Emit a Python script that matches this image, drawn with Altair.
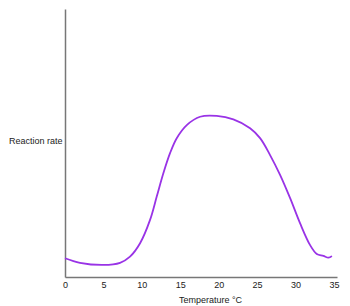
import altair as alt
import pandas as pd

temperature = [0, 1.95, 4.99, 7.16, 8.46, 9.77, 11.07, 11.94, 12.80, 13.67, 14.54,
               15.85, 17.58, 19.75, 21.91, 24.09, 25.39, 26.69, 27.99, 29.30,
               30.60, 31.90, 32.77, 33.63, 34.28, 34.73]
rate = [7.0, 5.3, 4.5, 5.3, 7.6, 12.6, 21.3, 30.0, 38.7, 46.2, 51.8,
        56.7, 59.8, 60.1, 58.8, 55.5, 51.8, 45.5, 38.1, 29.4,
        20.0, 11.9, 8.6, 7.9, 7.2, 7.8]
x_ticks = [0, 5, 10, 15, 20, 25, 30, 35]

df = pd.DataFrame({"t": temperature, "r": rate})

chart = alt.Chart(df).mark_line(
    color="#9933e6", strokeWidth=1.8, interpolate="catmull-rom"
).encode(
    x=alt.X("t:Q", scale=alt.Scale(domain=[0, 35.4], nice=False, zero=False),
            axis=alt.Axis(values=x_ticks, title="Temperature °C", ticks=False, grid=False,
                          domainColor="#777777", domainWidth=1.5, labelFontSize=9,
                          labelFont="Liberation Sans", labelColor="#222222", labelPadding=3,
                          labelFlush=False,
                          titleFont="Liberation Sans", titleFontSize=9, titleFontWeight="normal",
                          titleColor="#222222", titleX=145, titleY=22, titleBaseline="middle")),
    y=alt.Y("r:Q", scale=alt.Scale(domain=[0, 100], nice=False),
            axis=alt.Axis(title="Reaction rate", labels=False, ticks=False, grid=False,
                          domainColor="#777777", domainWidth=1.5,
                          titleFont="Liberation Sans", titleFontSize=9, titleFontWeight="normal",
                          titleColor="#222222", titleAngle=0, titleAlign="right",
                          titleBaseline="middle", titleX=-3, titleY=131)),
).properties(
    width=272, height=268,
    padding={"left": 65, "top": 9, "right": 13, "bottom": 29},
    autosize=alt.AutoSizeParams(type="none"),
).configure_view(stroke=None)

chart.save("out.html", embed_options={"renderer": "svg", "actions": False})
